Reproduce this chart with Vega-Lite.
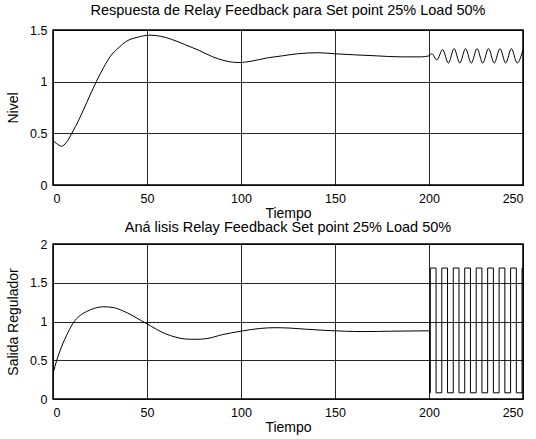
{
  "$schema": "https://vega.github.io/schema/vega-lite/v6.json",
  "padding": {"left": 5, "top": 1, "right": 10, "bottom": 5},
  "spacing": 59,
  "bounds": "flush",
  "config": {
    "font": "Liberation Sans",
    "view": {"stroke": "#000", "strokeWidth": 1.5},
    "axis": {
      "domain": false,
      "grid": true,
      "gridColor": "#000",
      "gridOpacity": 0.85,
      "gridWidth": 1,
      "ticks": false,
      "labelFont": "Liberation Sans",
      "labelFontSize": 12.5,
      "labelColor": "#000",
      "labelExpr": "'' + datum.value",
      "titleFont": "Liberation Sans",
      "titleFontSize": 14,
      "titleFontWeight": "normal",
      "titleColor": "#000"
    },
    "axisX": {"labelPadding": 7, "titlePadding": 2},
    "axisY": {"labelPadding": 6, "titlePadding": 9},
    "title": {"font": "Liberation Sans", "fontSize": 14.5, "fontWeight": "normal", "color": "#000", "anchor": "middle"}
  },
  "datasets": {
    "nivel": [
      {"t": 0, "v": 0.43}, {"t": 2, "v": 0.40}, {"t": 4.6, "v": 0.375}, {"t": 7, "v": 0.41},
      {"t": 10, "v": 0.50}, {"t": 14, "v": 0.64}, {"t": 18, "v": 0.80}, {"t": 23, "v": 1.0},
      {"t": 27, "v": 1.14}, {"t": 30.3, "v": 1.24}, {"t": 35, "v": 1.33}, {"t": 39, "v": 1.39},
      {"t": 45, "v": 1.43}, {"t": 51.6, "v": 1.45}, {"t": 57, "v": 1.44}, {"t": 63, "v": 1.41},
      {"t": 70, "v": 1.36}, {"t": 78, "v": 1.30}, {"t": 85, "v": 1.24}, {"t": 92, "v": 1.20},
      {"t": 99, "v": 1.185}, {"t": 106, "v": 1.20}, {"t": 114, "v": 1.23}, {"t": 122, "v": 1.25},
      {"t": 130, "v": 1.27}, {"t": 141, "v": 1.28}, {"t": 150, "v": 1.27}, {"t": 160, "v": 1.26},
      {"t": 172, "v": 1.25}, {"t": 185, "v": 1.24}, {"t": 196, "v": 1.24}, {"t": 200, "v": 1.25},
      {"t": 201.5, "v": 1.27}, {"t": 204.2, "v": 1.21}, {"t": 207.25, "v": 1.31}, {"t": 210.3, "v": 1.18},
      {"t": 213.35, "v": 1.32}, {"t": 216.4, "v": 1.18}, {"t": 219.45, "v": 1.32}, {"t": 222.5, "v": 1.18},
      {"t": 225.55, "v": 1.32}, {"t": 228.6, "v": 1.18}, {"t": 231.65, "v": 1.32}, {"t": 234.7, "v": 1.18},
      {"t": 237.75, "v": 1.32}, {"t": 240.8, "v": 1.18}, {"t": 243.85, "v": 1.32}, {"t": 246.9, "v": 1.18},
      {"t": 250, "v": 1.31}
    ],
    "salida": [
      {"t": 0, "v": 0.33}, {"t": 2, "v": 0.50}, {"t": 4.5, "v": 0.67}, {"t": 8, "v": 0.86},
      {"t": 11, "v": 0.99}, {"t": 14, "v": 1.07}, {"t": 18, "v": 1.13}, {"t": 22, "v": 1.17},
      {"t": 27, "v": 1.19}, {"t": 32, "v": 1.18}, {"t": 37, "v": 1.14}, {"t": 42, "v": 1.08},
      {"t": 47, "v": 1.01}, {"t": 50, "v": 0.97}, {"t": 55, "v": 0.90}, {"t": 60, "v": 0.84},
      {"t": 65, "v": 0.80}, {"t": 70, "v": 0.775}, {"t": 76, "v": 0.77}, {"t": 82, "v": 0.78},
      {"t": 90, "v": 0.83}, {"t": 100, "v": 0.875}, {"t": 110, "v": 0.91}, {"t": 118, "v": 0.92},
      {"t": 126, "v": 0.915}, {"t": 135, "v": 0.90}, {"t": 145, "v": 0.885}, {"t": 155, "v": 0.875},
      {"t": 165, "v": 0.87}, {"t": 180, "v": 0.875}, {"t": 200, "v": 0.88}
    ],
    "relay": [
      {"t": 200, "v": 0.88}, {"t": 200.3, "v": 0.08}, {"t": 200.7, "v": 1.69},
      {"t": 203.75, "v": 0.08}, {"t": 206.8, "v": 1.69}, {"t": 209.85, "v": 0.08}, {"t": 212.9, "v": 1.69},
      {"t": 215.95, "v": 0.08}, {"t": 219.0, "v": 1.69}, {"t": 222.05, "v": 0.08}, {"t": 225.1, "v": 1.69},
      {"t": 228.15, "v": 0.08}, {"t": 231.2, "v": 1.69}, {"t": 234.25, "v": 0.08}, {"t": 237.3, "v": 1.69},
      {"t": 240.35, "v": 0.08}, {"t": 243.4, "v": 1.69}, {"t": 246.45, "v": 0.08}, {"t": 249.5, "v": 1.69},
      {"t": 250, "v": 1.69}
    ]
  },
  "vconcat": [
    {
      "width": 470,
      "height": 155,
      "title": {"text": "Respuesta de Relay Feedback para Set point 25% Load 50%", "offset": 6},
      "data": {"name": "nivel"},
      "mark": {"type": "line", "color": "#000", "strokeWidth": 1, "interpolate": "monotone", "clip": true},
      "encoding": {
        "x": {"field": "t", "type": "quantitative", "scale": {"domain": [0, 250], "nice": false}, "axis": {"values": [0, 50, 100, 150, 200, 250], "title": "Tiempo"}},
        "y": {"field": "v", "type": "quantitative", "scale": {"domain": [0, 1.5], "nice": false}, "axis": {"values": [0, 0.5, 1, 1.5], "title": "Nivel"}}
      }
    },
    {
      "width": 470,
      "height": 155,
      "title": {"text": "Aná lisis Relay Feedback Set point 25% Load 50%", "offset": 3},
      "encoding": {
        "x": {"field": "t", "type": "quantitative", "scale": {"domain": [0, 250], "nice": false}, "axis": {"values": [0, 50, 100, 150, 200, 250], "title": "Tiempo"}},
        "y": {"field": "v", "type": "quantitative", "scale": {"domain": [0, 2], "nice": false}, "axis": {"values": [0, 0.5, 1, 1.5, 2], "title": "Salida Regulador"}}
      },
      "layer": [
        {
          "data": {"name": "salida"},
          "mark": {"type": "line", "color": "#000", "strokeWidth": 1, "interpolate": "monotone", "clip": true}
        },
        {
          "data": {"name": "relay"},
          "mark": {"type": "line", "color": "#000", "strokeWidth": 1, "interpolate": "step-after", "clip": true}
        }
      ]
    }
  ]
}
